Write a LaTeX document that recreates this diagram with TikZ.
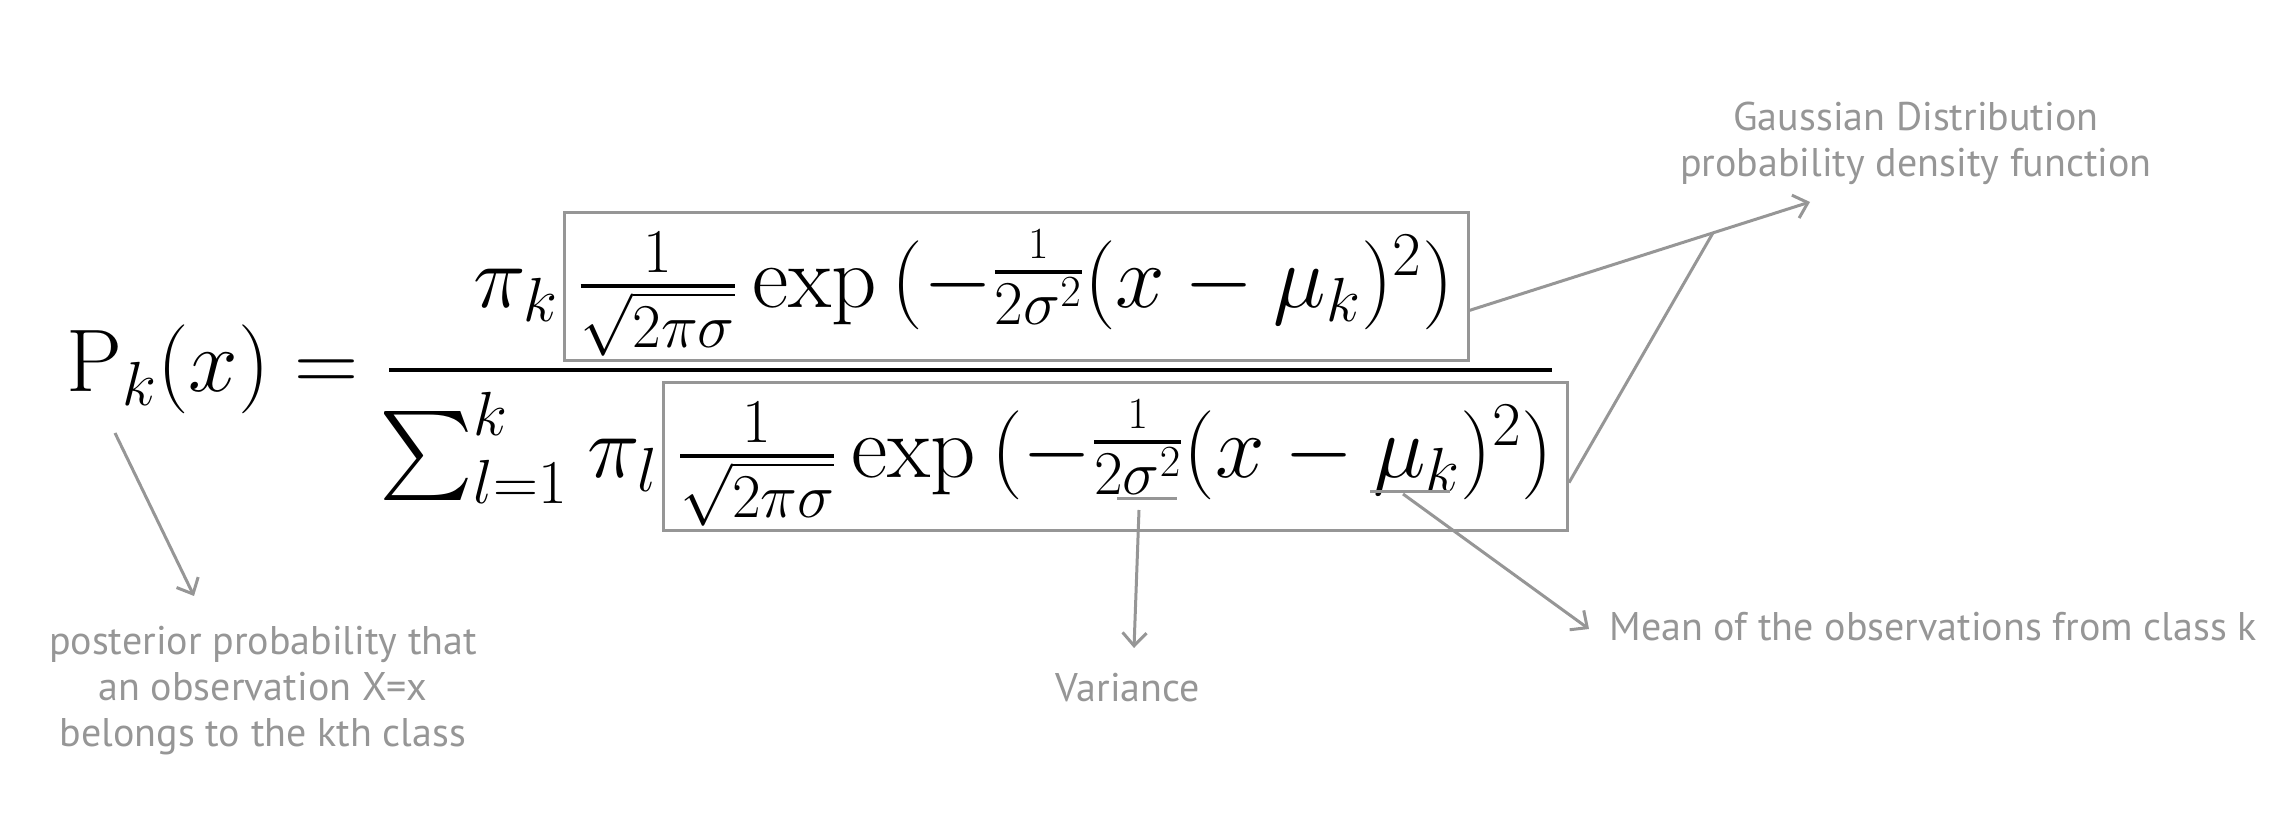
\RequirePackage{fix-cm}
\documentclass[tikz,border=0pt]{standalone}
\usepackage{amsmath}
\DeclareFontShape{OMX}{cmex}{m}{n}{<->cmex10}{}
\usepackage{fontspec}
\newfontfamily\lblfont{PT Sans}
\usetikzlibrary{arrows.meta,calc}
\definecolor{lg}{RGB}{150,150,150}
\newcommand{\gaussexpr}{\textstyle\frac{1}{\sqrt{2\pi\sigma}}\exp\,(-\raisebox{7pt}{$\textstyle\frac{\scriptscriptstyle 1}{2\sigma^2}$}(x-\mu_k)^2)}
\begin{document}
\begin{tikzpicture}[x=0.5pt,y=-0.5pt,
  lbl/.style={text=lg, font=\lblfont\fontsize{20}{23}\selectfont, align=center, inner sep=0},
  conn/.style={draw=lg, line width=1.5pt},
  arr/.style={conn, -{Straight Barb[length=6.5pt,width=12pt]}},
  fml/.style={inner sep=0, font=\fontsize{44.5}{53}\selectfont},
  gbox/.style={fml, draw=lg, line width=1.5pt, inner sep=0, text height=47.5pt, text depth=26.5pt, minimum width=452pt},
]
\useasboundingbox (0,0) rectangle (2292,822);
% formula
\node[fml, anchor=base west] (lhs) at (66,392) {$\mathrm{P}_k(x) =$};
\node[gbox, anchor=base] (gtop) at (1016,308) {$\gaussexpr$};
\node[gbox, anchor=base] (gbot) at (1115.5,478) {$\gaussexpr$};
\node[fml, anchor=base east, inner sep=2pt] (pik) at (gtop.base west) {$\pi_k$};
\node[fml, anchor=base east, inner sep=2pt] (sum) at (gbot.base west) {$\sum_{l=1}^{k}\mkern1mu\pi_l$};
\coordinate (barL) at (389,370);
\coordinate (barR) at (1552,370);
\draw[line width=1.8pt] (barL) -- (barR);
% underlines
\coordinate (sgL) at (1117,499);
\coordinate (sgR) at (1177,499);
\coordinate (muL) at (1370,492);
\coordinate (muR) at (1450,492);
\draw[conn] (sgL) -- (sgR);
\draw[conn] (muL) -- (muR);
% labels
\node[lbl] (post) at (263,691) {posterior probability that\\an observation X=x\\belongs to the kth class};
\node[lbl] (var) at (1128,688) {Variance};
\node[lbl, anchor=west] (mean) at (1609,627) {Mean of the observations from class k};
\node[lbl] (gauss) at (1916,143) {Gaussian Distribution\\probability density function};
% connectors
\coordinate (pA) at (115,433);
\coordinate (pB) at (194,596);
\draw[arr] (pA) -- (pB);
\coordinate (sgA) at (1139,510);
\coordinate (varB) at (1134,648);
\draw[arr] (sgA) -- (varB);
\coordinate (muA) at (1403,494);
\coordinate (meanB) at (1589,629);
\draw[arr] (muA) -- (meanB);
\coordinate (topS) at ($(gtop.south east)!0.345!(gtop.north east)$);
\coordinate (gB) at (1810,202);
\draw[arr] (topS) -- (gB);
\coordinate (J) at ($(topS)!0.715!(gB)$);
\coordinate (botS) at ($(gbot.south east)!0.33!(gbot.north east)$);
\draw[conn] (botS) -- (J);
\end{tikzpicture}
\end{document}
